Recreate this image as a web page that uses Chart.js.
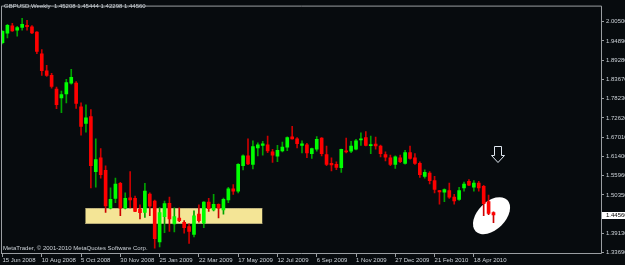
<!DOCTYPE html>
<html>
<head>
<meta charset="utf-8">
<title>GBPUSD Weekly</title>
<script src="https://cdn.jsdelivr.net/npm/chart.js@4.4.1/dist/chart.umd.min.js"></script>
<style>
  html, body { margin: 0; padding: 0; background: #070b0e; }
  #wrap { width: 625px; height: 265px; }
</style>
</head>
<body>
<div id="wrap"><canvas id="grafica" width="625" height="265"></canvas></div>
<script>
// weekly GBPUSD candles, 15 Jun 2008 .. 16 May 2010 (one entry per week)
var openPx = [1.9442, 1.9717, 1.9925, 1.9803, 1.9879, 1.9945, 1.9896, 1.9746, 1.9120, 1.8629,
  1.8495, 1.8098, 1.7842, 1.7956, 1.8268, 1.8268, 1.7586, 1.7104, 1.7302, 1.5711,
  1.6109, 1.5748, 1.4651, 1.4935, 1.5370, 1.4651, 1.4952, 1.4935, 1.4623, 1.4527,
  1.5058, 1.4859, 1.3675, 1.4405, 1.4794, 1.4197, 1.4368, 1.4243, 1.4121, 1.3893,
  1.4481, 1.4215, 1.4830, 1.4604, 1.4765, 1.4604, 1.4887, 1.5208, 1.5143, 1.5882,
  1.6166, 1.5918, 1.6393, 1.6470, 1.6487, 1.6279, 1.6157, 1.6308, 1.6413, 1.6714,
  1.6658, 1.6470, 1.6487, 1.6231, 1.6356, 1.6677, 1.6203, 1.5947, 1.5918, 1.5825,
  1.6308, 1.6299, 1.6356, 1.6629, 1.6697, 1.6459, 1.6507, 1.6450, 1.6203, 1.6109,
  1.5918, 1.6109, 1.5944, 1.6260, 1.6109, 1.5947, 1.5569, 1.5663, 1.5447, 1.5163,
  1.5115, 1.5163, 1.4973, 1.4907, 1.5237, 1.5427, 1.5257, 1.5379, 1.5285, 1.4839,
  1.45208];
var highPx = [1.9788, 1.9973, 2.0001, 1.9916, 2.0143, 2.0086, 1.9936, 1.9760, 1.9242, 1.8788,
  1.8552, 1.8154, 1.8041, 1.8382, 1.8666, 1.8316, 1.7700, 1.7643, 1.7501, 1.6658,
  1.6373, 1.5873, 1.5237, 1.5521, 1.5399, 1.5095, 1.5711, 1.5001, 1.4746, 1.5370,
  1.5095, 1.4887, 1.4669, 1.4859, 1.4973, 1.4660, 1.4660, 1.4291, 1.4197, 1.4575,
  1.4746, 1.4845, 1.4935, 1.5049, 1.4774, 1.4944, 1.5257, 1.5333, 1.5938, 1.6194,
  1.6658, 1.6601, 1.6544, 1.6584, 1.6734, 1.6356, 1.6470, 1.6564, 1.6714, 1.7018,
  1.6697, 1.6601, 1.6527, 1.6393, 1.6726, 1.6692, 1.6450, 1.6109, 1.5995, 1.6364,
  1.6677, 1.6584, 1.6641, 1.6828, 1.6868, 1.6734, 1.6706, 1.6478, 1.6279, 1.6186,
  1.6166, 1.6186, 1.6327, 1.6450, 1.6231, 1.5995, 1.5759, 1.5711, 1.5569, 1.5171,
  1.5214, 1.5379, 1.5049, 1.5257, 1.5407, 1.5475, 1.5447, 1.5427, 1.5314, 1.5029,
  1.45444];
var lowPx = [1.9405, 1.9575, 1.9769, 1.9632, 1.9803, 1.9803, 1.9703, 1.9120, 1.8495, 1.8467,
  1.8126, 1.7530, 1.7416, 1.7700, 1.8240, 1.7538, 1.6763, 1.6848, 1.5237, 1.5257,
  1.5521, 1.4527, 1.4632, 1.4811, 1.4433, 1.4632, 1.4660, 1.4547, 1.4339, 1.4385,
  1.4433, 1.3495, 1.3532, 1.3939, 1.3978, 1.3961, 1.4263, 1.3930, 1.3629, 1.3817,
  1.4243, 1.4084, 1.4555, 1.4575, 1.4368, 1.4481, 1.4811, 1.5049, 1.5095, 1.5759,
  1.5910, 1.5788, 1.6166, 1.6186, 1.6260, 1.5975, 1.5995, 1.6279, 1.6316, 1.6649,
  1.6393, 1.6251, 1.6109, 1.6089, 1.6299, 1.6166, 1.5882, 1.5731, 1.5768, 1.5683,
  1.6251, 1.6260, 1.6336, 1.6470, 1.6450, 1.6231, 1.6356, 1.6137, 1.6015, 1.5882,
  1.5805, 1.5967, 1.5924, 1.6066, 1.5918, 1.5541, 1.5521, 1.5350, 1.5095, 1.4765,
  1.4839, 1.4935, 1.4765, 1.4879, 1.5143, 1.5300, 1.5143, 1.5143, 1.4433, 1.4461,
  1.42298];
var closePx = [1.9766, 1.9945, 1.9783, 1.9879, 1.9973, 1.9902, 1.9726, 1.9186, 1.8629, 1.8495,
  1.8174, 1.7643, 1.7936, 1.8288, 1.8439, 1.7680, 1.7018, 1.7265, 1.5881, 1.6060,
  1.5617, 1.4717, 1.4907, 1.5350, 1.4651, 1.4935, 1.4887, 1.4555, 1.4518, 1.5143,
  1.4708, 1.3771, 1.4527, 1.4782, 1.4339, 1.4405, 1.4291, 1.4084, 1.3979, 1.4433,
  1.4291, 1.4830, 1.4640, 1.4765, 1.4651, 1.4907, 1.5208, 1.5143, 1.5918, 1.6166,
  1.5930, 1.6430, 1.6487, 1.6516, 1.6308, 1.6186, 1.6327, 1.6421, 1.6697, 1.6658,
  1.6516, 1.6516, 1.6251, 1.6373, 1.6641, 1.6231, 1.5918, 1.5902, 1.5833, 1.6356,
  1.6279, 1.6450, 1.6601, 1.6658, 1.6470, 1.6487, 1.6450, 1.6231, 1.6129, 1.5918,
  1.6137, 1.5995, 1.6260, 1.6089, 1.5947, 1.5617, 1.5691, 1.5447, 1.5191, 1.5123,
  1.5191, 1.4973, 1.4859, 1.5163, 1.5350, 1.5314, 1.5379, 1.5237, 1.4782, 1.4498,
  1.44560];

var tickWeeks = [0, 8, 16, 24, 32, 40, 48, 56, 64, 72, 80, 88, 96];
var tickLabels = ['15 Jun 2008', '10 Aug 2008', '5 Oct 2008', '30 Nov 2008', '25 Jan 2009',
  '22 Mar 2009', '17 May 2009', '12 Jul 2009', '6 Sep 2009', '1 Nov 2009', '27 Dec 2009',
  '21 Feb 2010', '18 Apr 2010'];
var priceTicks = [2.005, 1.9489, 1.8928, 1.8367, 1.7823, 1.7262, 1.6701, 1.614, 1.5596,
  1.5035, 1.3913, 1.3369];

var symbolName = 'GBPUSD,Weekly';
var copyright = 'MetaTrader, \u00a9 2001-2010 MetaQuotes Software Corp.';

// drawn objects, in week / price units
var zone = { x0: 16.9, x1: 52.9, top: 1.466, bottom: 1.4197 };
var highlight = { x: 99.6, y: 1.4433 };
var arrow = { x: 101, y: 1.5995 };

var colors = {
  background: '#070b0e',
  frame: '#9a9ea2',
  text: '#cdd3d9',
  bull: '#00ff00',
  bear: '#ff0000',
  bullWick: '#00a400',
  bearWick: '#cc0000',
  zone: '#f4e596'
};
var fontName = '"Liberation Sans", Arial, sans-serif';

var bodies = [], wicks = [], bodyColors = [], wickColors = [];
for (var i = 0; i < openPx.length; i++) {
  var up = closePx[i] >= openPx[i];
  bodies.push({ x: i, y: [openPx[i], closePx[i]] });
  wicks.push({ x: i, y: [lowPx[i], highPx[i]] });
  bodyColors.push(up ? colors.bull : colors.bear);
  wickColors.push(up ? colors.bullWick : colors.bearWick);
}

var decor = {
  id: 'mtDecor',
  beforeDraw: function(chart) {
    var ctx = chart.ctx;
    ctx.save();
    ctx.fillStyle = colors.background;
    ctx.fillRect(0, 0, chart.width, chart.height);
    ctx.restore();
  },
  beforeDatasetsDraw: function(chart) {
    var ctx = chart.ctx, sx = chart.scales.x, sy = chart.scales.y;
    ctx.save();
    var left = sx.getPixelForValue(zone.x0), right = sx.getPixelForValue(zone.x1);
    var top = Math.round(sy.getPixelForValue(zone.top)), bottom = Math.round(sy.getPixelForValue(zone.bottom));
    ctx.fillStyle = colors.zone;
    ctx.fillRect(left, top, right - left, bottom - top);
    ctx.strokeStyle = '#8a8468';
    ctx.lineWidth = 1;
    ctx.setLineDash([1, 1]);
    ctx.beginPath();
    ctx.moveTo(left, top + 0.5);
    ctx.lineTo(right, top + 0.5);
    ctx.stroke();
    ctx.setLineDash([]);
    ctx.strokeStyle = '#b8ad78';
    ctx.beginPath();
    ctx.moveTo(left, bottom - 0.5);
    ctx.lineTo(right, bottom - 0.5);
    ctx.stroke();

    ctx.fillStyle = '#ffffff';
    ctx.beginPath();
    ctx.ellipse(sx.getPixelForValue(highlight.x), sy.getPixelForValue(highlight.y), 22.3, 13.9, -Math.PI / 4, 0, Math.PI * 2);
    ctx.fill();
    ctx.restore();
  },
  afterDraw: function(chart) {
    var ctx = chart.ctx, sx = chart.scales.x, sy = chart.scales.y, area = chart.chartArea;
    var n = closePx.length - 1;
    ctx.save();

    // frame
    ctx.strokeStyle = colors.frame;
    ctx.lineWidth = 1;
    ctx.beginPath();
    ctx.moveTo(area.left + 0.5, area.bottom);
    ctx.lineTo(area.left + 0.5, area.top + 0.5);
    ctx.lineTo(area.right - 0.5, area.top + 0.5);
    ctx.lineTo(area.right - 0.5, area.bottom - 0.5);
    ctx.lineTo(area.left, area.bottom - 0.5);
    ctx.stroke();

    // hollow arrow
    var ax = Math.round(sx.getPixelForValue(arrow.x)), ay = Math.round(sy.getPixelForValue(arrow.y)) + 0.5;
    ctx.strokeStyle = '#dfe7f0';
    ctx.beginPath();
    ctx.moveTo(ax - 3.5, ay - 16);
    ctx.lineTo(ax + 3.5, ay - 16);
    ctx.lineTo(ax + 3.5, ay - 7);
    ctx.lineTo(ax + 6.5, ay - 7);
    ctx.lineTo(ax, ay);
    ctx.lineTo(ax - 6.5, ay - 7);
    ctx.lineTo(ax - 3.5, ay - 7);
    ctx.closePath();
    ctx.stroke();

    // texts
    ctx.font = '6px ' + fontName;
    ctx.textBaseline = 'top';
    ctx.fillStyle = colors.text;
    var ohlc = [openPx[n], highPx[n], lowPx[n], closePx[n]].map(function(v) { return v.toFixed(5); });
    ctx.fillText(symbolName + '  ' + ohlc.join(' '), 4, 3);
    ctx.fillText(copyright, 3, 245);

    // current price label
    var py = Math.round(sy.getPixelForValue(closePx[n]));
    ctx.fillStyle = '#ffffff';
    ctx.fillRect(area.right, py - 3, chart.width - area.right, 7);
    ctx.fillStyle = '#000000';
    ctx.textBaseline = 'middle';
    ctx.fillText(closePx[n].toFixed(5), area.right + 4, py + 0.5);
    ctx.restore();
  }
};

var grafica = new Chart(document.getElementById('grafica'), {
  type: 'bar',
  data: {
    datasets: [
      { data: bodies, backgroundColor: bodyColors, barThickness: 3, minBarLength: 1, grouped: false, borderWidth: 0 },
      { data: wicks, backgroundColor: wickColors, barThickness: 1, grouped: false, borderWidth: 0 }
    ]
  },
  options: {
    responsive: false,
    devicePixelRatio: 1,
    animation: false,
    events: [],
    layout: { padding: { left: 1, top: 1, right: 0, bottom: 0 } },
    plugins: { legend: { display: false }, tooltip: { enabled: false } },
    scales: {
      x: {
        type: 'linear',
        min: -0.305,
        max: 122.1,
        offset: false,
        grid: { display: true, offset: false, drawOnChartArea: false, drawTicks: true, tickLength: 3, color: colors.frame },
        border: { display: false },
        afterBuildTicks: function(scale) {
          scale.ticks = tickWeeks.map(function(w) { return { value: w }; });
        },
        afterFit: function(scale) { scale.height = 11; },
        ticks: {
          autoSkip: false,
          maxRotation: 0,
          align: 'start',
          padding: 0,
          color: colors.text,
          font: { family: fontName, size: 6 },
          callback: function(v) {
            var k = tickWeeks.indexOf(v);
            return k < 0 ? '' : tickLabels[k];
          }
        }
      },
      y: {
        position: 'right',
        min: 1.3325,
        max: 2.0513,
        beginAtZero: false,
        grid: { drawOnChartArea: false, drawTicks: true, tickLength: 2, color: colors.frame },
        border: { display: false },
        afterBuildTicks: function(scale) {
          scale.ticks = priceTicks.map(function(p) { return { value: p }; });
        },
        afterFit: function(scale) { scale.width = 23; },
        ticks: {
          autoSkip: false,
          padding: 2,
          color: colors.text,
          font: { family: fontName, size: 6 },
          callback: function(v) { return v.toFixed(5); }
        }
      }
    }
  },
  plugins: [decor]
});
</script>
</body>
</html>
